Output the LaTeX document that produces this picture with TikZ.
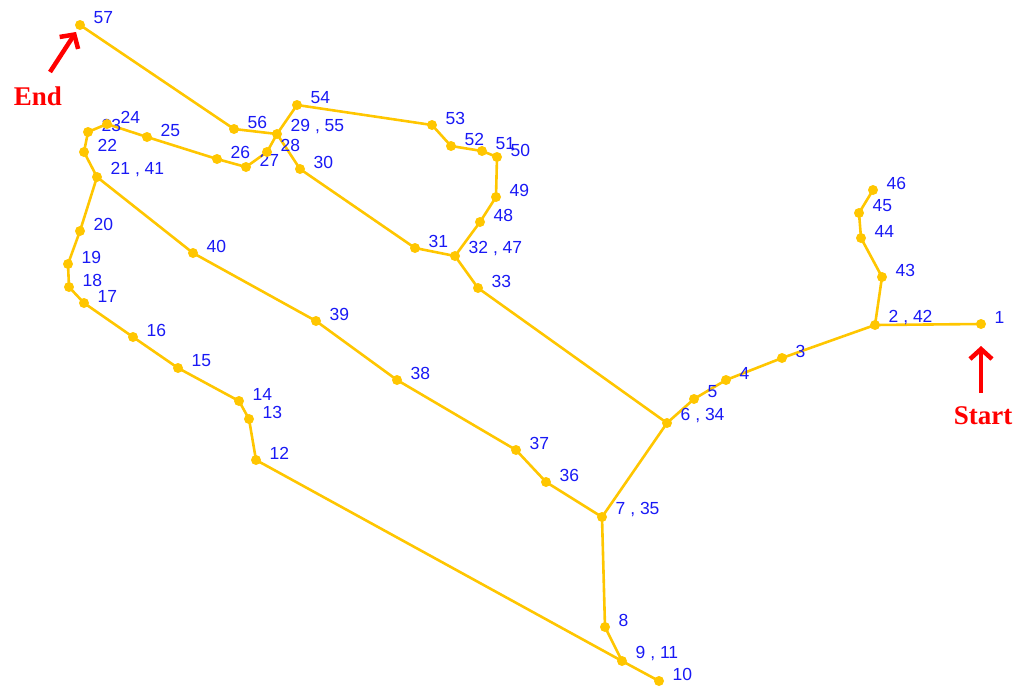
\documentclass[tikz,border=0pt]{standalone}
\usepackage{fontspec}
\setmainfont{Liberation Sans}
\newfontfamily\serifb{Liberation Serif}
\usetikzlibrary{arrows.meta,backgrounds}
\definecolor{route}{RGB}{255,198,0}
\definecolor{lblblue}{RGB}{25,25,245}
\definecolor{mark}{RGB}{255,0,0}
\tikzset{
  dot/.style={circle,fill=route,draw=none,minimum size=10pt,inner sep=0pt},
  lbl/.style={anchor=west,inner sep=0pt,text=lblblue,font=\fontsize{17.5}{17.5}\selectfont},
  routeline/.style={draw=route,line width=2.6pt,line join=round},
  tag/.style={text=mark,font=\serifb\bfseries\fontsize{27}{27}\selectfont,inner sep=0pt},
  pointer/.style={draw=mark,line width=4.5pt,-{Straight Barb[length=10pt,width=22pt,line width=4.5pt]}}
}
\newcommand\pp[4]{\node[dot] (#1) at (#2,#3) {};
  \node[lbl] (#1l) at ([xshift=13.5pt,yshift=7pt]#1.center) {#4};}
\begin{document}
\begin{tikzpicture}[x=1pt,y=-1pt]
\useasboundingbox (0,0) rectangle (1021,688);
\pp{p1}{981}{324}{1}
\pp{p2}{875}{325}{2 , 42}
\pp{p3}{782}{358}{3}
\pp{p4}{726}{380}{4}
\pp{p5}{694}{399}{5}
\pp{p6}{667}{423}{6 , 34}
\pp{p7}{602}{517}{7 , 35}
\pp{p8}{605}{627}{8}
\pp{p9}{622}{661}{9 , 11}
\pp{p10}{659}{681}{10}
\pp{p12}{256}{460}{12}
\pp{p13}{249}{419}{13}
\pp{p14}{239}{401}{14}
\pp{p15}{178}{368}{15}
\pp{p16}{133}{337}{16}
\pp{p17}{84}{303}{17}
\pp{p18}{69}{287}{18}
\pp{p19}{68}{264}{19}
\pp{p20}{80}{231}{20}
\pp{p21}{97}{177}{21 , 41}
\pp{p22}{84}{152}{22}
\pp{p23}{88}{132}{23}
\pp{p24}{107}{124}{24}
\pp{p25}{147}{137}{25}
\pp{p26}{217}{159}{26}
\pp{p27}{246}{167}{27}
\pp{p28}{267}{152}{28}
\pp{p29}{277}{134}{29 , 55}
\pp{p30}{300}{169}{30}
\pp{p31}{415}{248}{31}
\pp{p32}{455}{256}{32 , 47}
\pp{p33}{478}{288}{33}
\pp{p36}{546}{482}{36}
\pp{p37}{516}{450}{37}
\pp{p38}{397}{380}{38}
\pp{p39}{316}{321}{39}
\pp{p40}{193}{253}{40}
\pp{p43}{882}{277}{43}
\pp{p44}{861}{238}{44}
\pp{p45}{859}{213}{45}
\pp{p46}{873}{190}{46}
\pp{p48}{480}{222}{48}
\pp{p49}{496}{197}{49}
\pp{p50}{497}{157}{50}
\pp{p51}{482}{151}{51}
\pp{p52}{451}{146}{52}
\pp{p53}{432}{125}{53}
\pp{p54}{297}{105}{54}
\pp{p56}{234}{129}{56}
\pp{p57}{80}{25}{57}
\begin{scope}[on background layer]
\draw[routeline] (p1.center) -- (p2.center) -- (p3.center) -- (p4.center) -- (p5.center)
  -- (p6.center) -- (p7.center) -- (p8.center) -- (p9.center) -- (p10.center);
\draw[routeline] (p9.center) -- (p12.center) -- (p13.center) -- (p14.center) -- (p15.center)
  -- (p16.center) -- (p17.center) -- (p18.center) -- (p19.center) -- (p20.center)
  -- (p21.center) -- (p22.center) -- (p23.center) -- (p24.center) -- (p25.center)
  -- (p26.center) -- (p27.center) -- (p28.center) -- (p29.center) -- (p30.center)
  -- (p31.center) -- (p32.center) -- (p33.center) -- (p6.center);
\draw[routeline] (p7.center) -- (p36.center) -- (p37.center) -- (p38.center) -- (p39.center)
  -- (p40.center) -- (p21.center);
\draw[routeline] (p2.center) -- (p43.center) -- (p44.center) -- (p45.center) -- (p46.center);
\draw[routeline] (p32.center) -- (p48.center) -- (p49.center) -- (p50.center) -- (p51.center)
  -- (p52.center) -- (p53.center) -- (p54.center) -- (p29.center) -- (p56.center) -- (p57.center);
\end{scope}
\node[tag] (endt) at (38,96) {End};
\node[tag] (startt) at (983,416) {Start};
\coordinate (endtip) at (76,32);
\coordinate (starttip) at (981,346);
\draw[pointer] (50,72) -- (endtip);
\draw[pointer] (981,393) -- (starttip);
\end{tikzpicture}
\end{document}
